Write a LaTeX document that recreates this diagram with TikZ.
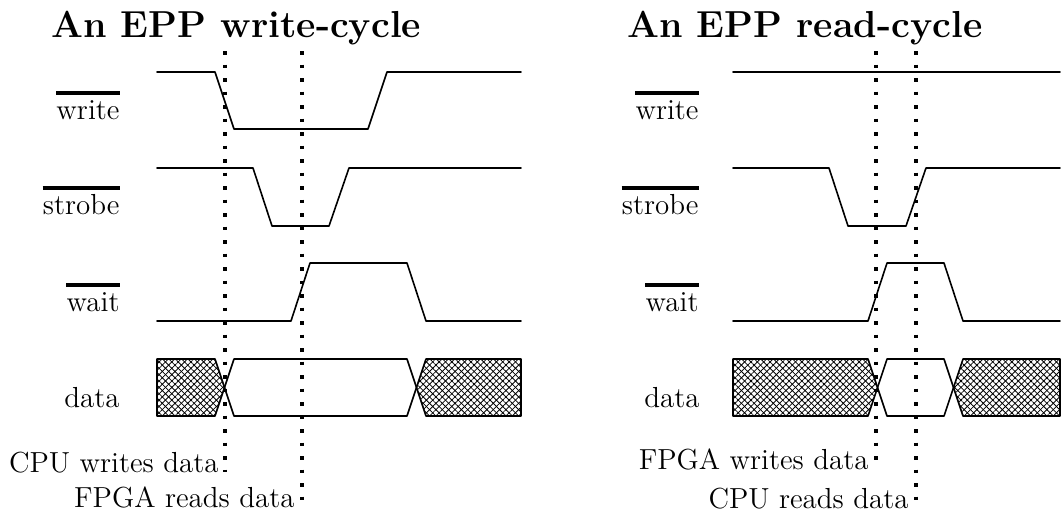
\documentclass[tikz,border=0pt]{standalone}
\usetikzlibrary{patterns.meta}
\begin{document}
\begin{tikzpicture}[x=0.5pt, y=-0.5pt, line join=round, line cap=round,
    sig/.style={line width=0.8pt},
    hatch/.style={line width=0.8pt, pattern={Lines[angle=45,distance=2.25pt,line width=0.4pt]},
        postaction={pattern={Lines[angle=-45,distance=2.25pt,line width=0.4pt]}}},
    guide/.style={line width=1.8pt, line cap=butt, dash pattern=on 1.8pt off 4.95pt},
    title/.style={anchor=base west, inner sep=0pt, font=\fontsize{18.8}{22}\selectfont\bfseries},
    lbl/.style={anchor=base east, inner sep=0pt, text height=13pt, font=\fontsize{14.5}{17}\selectfont},
    note/.style={anchor=base east, inner sep=0pt, font=\fontsize{14.5}{17}\selectfont},
    bar/.style={line width=2pt, line cap=butt}]
    \def\wh{72} \def\wl{129} \def\sh{168} \def\sl{226} \def\ah{263} \def\al{321} % levels
    \def\dt{359} \def\db{416} \def\dm{387.5} % data lane
    \useasboundingbox (0,0) rectangle (1061,521);
    % write cycle
    \node[title] (tw) at (51,37) {An EPP write-cycle};
    \node[lbl] (w1) at (120,119) {write};
    \node[lbl] (s1) at (120,214) {strobe};
    \node[lbl] (a1) at (120,311) {wait};
    \node[lbl] (d1) at (120,407) {data};
    \foreach \n in {w1,s1,a1} \draw[bar] (\n.north west) -- (\n.north east);
    \draw[sig] (157,\wh) -- (215,\wh) -- (234,\wl) -- (368,\wl) -- (387,\wh) -- (521,\wh);
    \draw[sig] (157,\sh) -- (253,\sh) -- (272,\sl) -- (329,\sl) -- (349,\sh) -- (521,\sh);
    \draw[sig] (157,\al) -- (291,\al) -- (310,\ah) -- (407,\ah) -- (426,\al) -- (521,\al);
    \draw[hatch] (157,\dt) -- (215,\dt) -- (224.5,\dm) -- (215,\db) -- (157,\db) -- cycle;
    \draw[sig] (224.5,\dm) -- (234,\dt) -- (407,\dt) -- (416.5,\dm) -- (407,\db) -- (234,\db) -- cycle;
    \draw[hatch] (416.5,\dm) -- (426,\dt) -- (521,\dt) -- (521,\db) -- (426,\db) -- cycle;
    \coordinate (g1) at (225,51);
    \coordinate (g2) at (302,51);
    \node[note] (cw) at (219,472) {CPU writes data};
    \node[note] (fr) at (295,507) {FPGA reads data};
    \draw[guide] (g1) -- (g1 |- cw.base);
    \draw[guide] (g2) -- (g2 |- fr.base);
    % read cycle
    \node[title] (tr) at (627,37) {An EPP read-cycle};
    \node[lbl] (w2) at (699,119) {write};
    \node[lbl] (s2) at (699,214) {strobe};
    \node[lbl] (a2) at (699,311) {wait};
    \node[lbl] (d2) at (700,407) {data};
    \foreach \n in {w2,s2,a2} \draw[bar] (\n.north west) -- (\n.north east);
    \draw[sig] (733,\wh) -- (1060,\wh);
    \draw[sig] (733,\sh) -- (829,\sh) -- (848,\sl) -- (906,\sl) -- (926,\sh) -- (1060,\sh);
    \draw[sig] (733,\al) -- (868,\al) -- (887,\ah) -- (944,\ah) -- (963,\al) -- (1060,\al);
    \draw[hatch] (733,\dt) -- (868,\dt) -- (877.5,\dm) -- (868,\db) -- (733,\db) -- cycle;
    \draw[sig] (877.5,\dm) -- (887,\dt) -- (944,\dt) -- (953.5,\dm) -- (944,\db) -- (887,\db) -- cycle;
    \draw[hatch] (953.5,\dm) -- (963,\dt) -- (1060,\dt) -- (1060,\db) -- (963,\db) -- cycle;
    \coordinate (g3) at (876,51);
    \coordinate (g4) at (916,51);
    \node[note] (fw) at (869,469) {FPGA writes data};
    \node[note] (cr) at (909,508) {CPU reads data};
    \draw[guide] (g3) -- (g3 |- fw.base);
    \draw[guide] (g4) -- (g4 |- cr.base);
\end{tikzpicture}
\end{document}
